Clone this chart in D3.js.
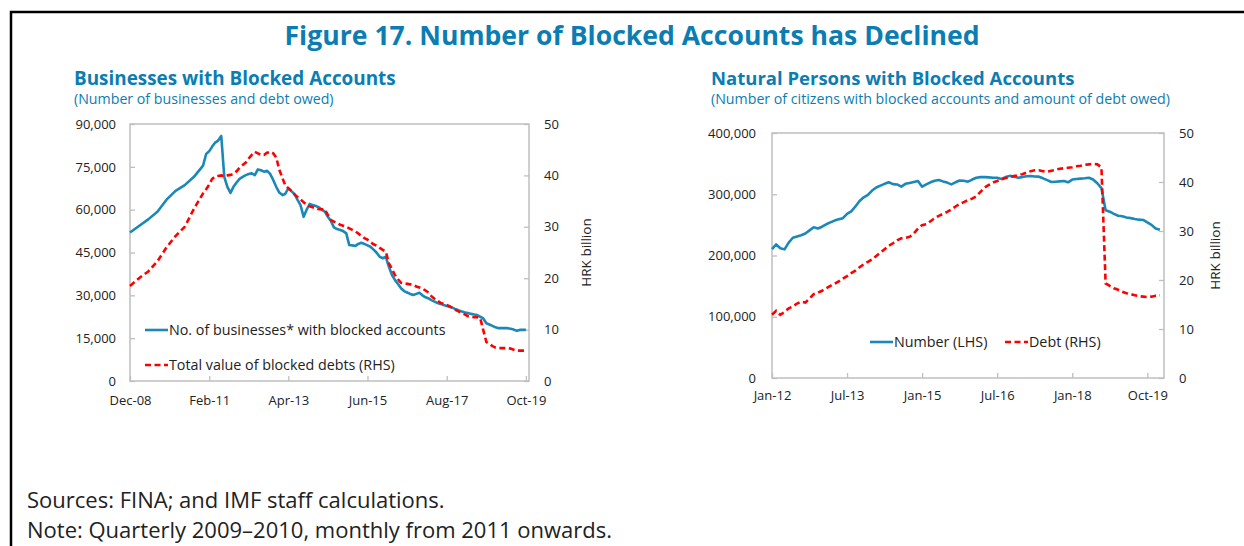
<!DOCTYPE html>
<html>
<head>
<meta charset="utf-8">
<script src="https://cdn.jsdelivr.net/npm/d3@7"></script>
<style>
  body { margin: 0; background: #fff; }
  text { font-family: "Open Sans", "Noto Sans", sans-serif; }
</style>
</head>
<body>
<script>
// ---- data ----
// left chart: quarterly Dec-08..Dec-10, monthly Jan-11..Oct-19
var bizCount = [52.0, 54.3, 56.6, 59.3, 63.5, 66.6, 68.6, 71.5, 75.4,
  79.5, 80.5, 82.0, 83.5, 84.2, 85.8, 71.5, 68.0, 65.9, 68.0, 69.5, 70.8,
  71.5, 72.1, 72.5, 72.7, 72.1, 74.1, 73.8, 73.3, 73.6, 72.5, 70.4, 68.0,
  66.0, 65.1, 65.5, 67.5, 66.5, 65.5, 63.5, 61.6, 57.5, 60.0, 62.0, 61.6,
  61.3, 60.8, 60.0, 59.3, 57.5, 56.0, 53.8, 53.2, 52.9, 52.5, 51.7, 47.6,
  47.5, 47.3, 48.0, 48.4, 48.0, 47.5, 47.0, 46.0, 44.9, 43.5, 43.0, 43.5,
  40.0, 37.1, 35.4, 34.0, 32.5, 31.5, 31.0, 30.5, 30.1, 30.5, 30.9, 30.0,
  29.3, 28.9, 28.3, 27.8, 27.3, 27.0, 26.6, 26.3, 26.0, 25.6, 25.1, 24.7,
  24.3, 24.0, 23.8, 23.5, 23.3, 23.1, 22.5, 21.9, 20.2, 19.8, 19.3, 18.8,
  18.5, 18.5, 18.5, 18.5, 18.3, 18.0, 17.6, 17.9, 17.9, 17.9];          // thousands
var bizDebt = [18.5, 20.0, 21.3, 23.3, 26.0, 28.2, 30.0, 33.5, 36.5,
  37.3, 38.2, 39.3, 39.8, 39.9, 40.0, 39.9, 40.0, 40.1, 40.3, 40.8, 41.5,
  42.0, 42.5, 43.3, 44.0, 44.6, 44.3, 44.0, 44.0, 44.4, 44.6, 44.3, 43.5,
  41.1, 39.5, 38.1, 37.5, 37.0, 36.3, 35.8, 35.3, 34.8, 34.3, 34.0, 33.8,
  33.6, 33.4, 33.4, 33.4, 32.3, 31.3, 31.0, 30.7, 30.4, 30.2, 30.0, 29.7,
  29.4, 29.1, 28.7, 28.2, 27.8, 27.5, 27.0, 26.6, 26.3, 25.9, 25.5, 25.2,
  22.9, 21.8, 20.6, 19.8, 19.1, 19.0, 18.9, 18.8, 18.7, 18.4, 18.2, 18.0,
  17.6, 17.2, 16.5, 16.0, 15.6, 15.2, 15.0, 14.8, 14.5, 14.2, 13.8, 13.5,
  13.2, 12.9, 12.6, 12.5, 12.4, 12.4, 12.3, 9.9, 7.6, 7.2, 6.8, 6.5,
  6.4, 6.4, 6.4, 6.4, 6.3, 6.1, 5.9, 5.9, 5.9, 5.9];                  // HRK billion
var leftTickLabels = ["Dec-08", "Feb-11", "Apr-13", "Jun-15", "Aug-17", "Oct-19"];

// right chart: monthly from Jan-12
var personCount = [210.6, 218, 212, 210, 221, 229, 231, 233, 236, 241, 246, 244,
  247, 251, 254, 257, 259, 261, 268, 272, 280, 289, 295, 299,
  306, 311, 314, 317, 319.5, 316.5, 316, 312.5, 317, 318.5, 320, 321.6,
  312.3, 316, 319.5, 322, 323.3, 321, 319, 316.2, 319.5, 322.5, 322, 320.5,
  324, 327, 328, 328, 327.5, 327, 327, 325, 328, 330, 329, 327,
  328, 329.5, 329.8, 329, 328.7, 326, 323, 320, 320.5, 321, 321.6, 319.5,
  324, 325, 325.5, 326, 327, 324, 318, 310, 274, 271.5, 268, 265,
  264, 262, 261, 259.5, 258.5, 258, 254, 250, 244, 242];               // thousands
var personDebt = [12.9, 13.7, 12.9, 13.5, 14.2, 14.6, 15.2, 15.6, 15.4, 16.2, 17.1, 17.4,
  17.8, 18.3, 18.8, 19.2, 19.7, 20.3, 20.8, 21.4, 21.9, 22.6, 23.2, 23.7,
  24.2, 24.9, 25.6, 26.3, 27.0, 27.5, 28.1, 28.5, 28.6, 28.8, 29.5, 30.5,
  31.2, 31.4, 32.0, 32.6, 33.1, 33.5, 33.9, 34.4, 35.0, 35.5, 35.9, 36.3,
  36.6, 37.1, 38.0, 38.9, 39.4, 39.9, 40.2, 40.5, 40.8, 41.0, 41.2, 41.4,
  41.6, 41.9, 42.2, 42.4, 42.4, 42.2, 42.1, 42.3, 42.5, 42.7, 42.8, 42.9,
  43.0, 43.2, 43.3, 43.5, 43.6, 43.7, 43.6, 43.0, 19.3, 18.8, 18.3, 18.0,
  17.6, 17.3, 17.1, 16.9, 16.7, 16.6, 16.5, 16.6, 16.8, 16.9];         // HRK billion
var rightTickLabels = ["Jan-12", "Jul-13", "Jan-15", "Jul-16", "Jan-18", "Oct-19"];
var rightTickIdx = [0, 18, 36, 54, 72, 90];

// ---- setup ----
var W = 1244, H = 546;
var teal = "#0b7db3", blue = "#1a88b9", red = "#ff0000", frame = "#bfbfbf", ink = "#222";

var svg = d3.select("body").append("svg")
    .attr("width", W)
    .attr("height", H);

// outer frame (top + left edge)
svg.append("path")
    .attr("d", "M11,546 V12 H1244")
    .attr("fill", "none")
    .attr("stroke", "#000")
    .attr("stroke-width", 2.5);

svg.append("text")
    .attr("x", 632).attr("y", 45)
    .attr("text-anchor", "middle")
    .attr("font-size", "26.6px").attr("font-weight", "bold")
    .attr("fill", teal)
    .text("Figure 17. Number of Blocked Accounts has Declined");

function heading(x, t, s, fs) {
    svg.append("text").attr("x", x).attr("y", 85)
        .attr("font-size", fs + "px").attr("font-weight", "bold").attr("fill", teal).text(t);
    svg.append("text").attr("x", x).attr("y", 104)
        .attr("font-size", "14.2px").attr("fill", teal).text(s);
}
heading(74, "Businesses with Blocked Accounts", "(Number of businesses and debt owed)", 18.9);
heading(711, "Natural Persons with Blocked Accounts", "(Number of citizens with blocked accounts and amount of debt owed)", 18.5);

svg.append("text").attr("x", 27).attr("y", 508)
    .attr("font-size", "22px").attr("fill", ink)
    .text("Sources: FINA; and IMF staff calculations.");
svg.append("text").attr("x", 27).attr("y", 538)
    .attr("font-size", "22px").attr("fill", ink)
    .text("Note: Quarterly 2009\u20132010, monthly from 2011 onwards.");

// styles shared by both panels
function styleAxis(g) {
    g.select(".domain").remove();
    g.selectAll("line").attr("stroke", frame).attr("stroke-width", 1.3);
    g.selectAll("text").attr("font-size", "13px").attr("fill", ink)
        .attr("font-family", "'Open Sans', sans-serif");
}

function panel(p) {
    var g = svg.append("g");
    // box
    g.append("rect")
        .attr("x", p.x0).attr("y", p.y0)
        .attr("width", p.x1 - p.x0).attr("height", p.y1 - p.y0)
        .attr("fill", "none").attr("stroke", frame).attr("stroke-width", 1.5);

    g.append("g").attr("transform", "translate(" + p.x0 + ",0)")
        .call(d3.axisLeft(p.yL).tickValues(p.lTicks).tickFormat(d3.format(",")).tickSize(-5).tickPadding(p.padL))
        .call(styleAxis);
    g.append("g").attr("transform", "translate(" + p.x1 + ",0)")
        .call(d3.axisRight(p.yR).tickValues([0, 10, 20, 30, 40, 50]).tickSize(-5).tickPadding(15))
        .call(styleAxis);
    g.append("g").attr("transform", "translate(0," + p.y1 + ")")
        .call(p.xAxis.tickSize(-5).tickPadding(p.padX))
        .call(styleAxis);

    g.append("text")
        .attr("transform", "translate(" + p.unitX + "," + ((p.y0 + p.y1) / 2) + ") rotate(-90)")
        .attr("text-anchor", "middle").attr("dy", "0.35em")
        .attr("font-size", "13.5px").attr("fill", ink)
        .text("HRK billion");

    g.append("path").datum(p.count)
        .attr("fill", "none").attr("stroke", blue).attr("stroke-width", 2.6)
        .attr("stroke-linejoin", "round")
        .attr("d", d3.line().x(function(d, i) { return p.xAt(i); }).y(function(d) { return p.yL(d * 1000); }));
    g.append("path").datum(p.debt)
        .attr("fill", "none").attr("stroke", red).attr("stroke-width", 2.6)
        .attr("stroke-dasharray", "6,3.5")
        .attr("d", d3.line().x(function(d, i) { return p.xAt(i); }).y(function(d) { return p.yR(d); }));

    p.legend.forEach(function(l) {
        g.append("line")
            .attr("x1", l.x).attr("x2", l.x + 23).attr("y1", l.y).attr("y2", l.y)
            .attr("stroke", l.c).attr("stroke-width", 2.6)
            .attr("stroke-dasharray", l.dash ? "6,3.5" : null);
        g.append("text").attr("x", l.x + 24).attr("y", l.y).attr("dy", "0.36em")
            .attr("font-size", "14.3px").attr("fill", ink).text(l.t);
    });
}

// ---- left panel ----
var leftDates = d3.timeMonth.range(new Date(2008, 11, 1), new Date(2011, 0, 1), 3)
    .concat(d3.timeMonth.range(new Date(2011, 0, 1), new Date(2019, 10, 1)));
var parseM = d3.timeParse("%b-%y");
var xLeft = d3.scaleTime()
    .domain([new Date(2008, 11, 1), new Date(2019, 10, 1)])
    .range([130, 529]);
panel({
    x0: 130, x1: 529, y0: 124, y1: 381,
    yL: d3.scaleLinear().domain([0, 90000]).range([381, 124]),
    yR: d3.scaleLinear().domain([0, 50]).range([381, 124]),
    lTicks: d3.range(0, 90001, 15000),
    padL: 14, padX: 15, unitX: 586,
    xAxis: d3.axisBottom(xLeft).tickValues(leftTickLabels.map(parseM)).tickFormat(d3.timeFormat("%b-%y")),
    xAt: function(i) { return xLeft(leftDates[i]); },
    count: bizCount, debt: bizDebt,
    legend: [
        { x: 145, y: 330, c: blue, t: "No. of businesses* with blocked accounts" },
        { x: 145, y: 365, c: red, dash: true, t: "Total value of blocked debts (RHS)" }
    ]
});

// ---- right panel ----
var xRight = d3.scaleLinear().domain([0, 94]).range([772, 1164]);
panel({
    x0: 772, x1: 1164, y0: 133, y1: 378,
    yL: d3.scaleLinear().domain([0, 400000]).range([378, 133]),
    yR: d3.scaleLinear().domain([0, 50]).range([378, 133]),
    lTicks: d3.range(0, 400001, 100000),
    padL: 16, padX: 13, unitX: 1215,
    xAxis: d3.axisBottom(xRight).tickValues(rightTickIdx).tickFormat(function(d, i) { return rightTickLabels[i]; }),
    xAt: function(i) { return xRight(i); },
    count: personCount, debt: personDebt,
    legend: [
        { x: 870, y: 342, c: blue, t: "Number (LHS)" },
        { x: 1005, y: 342, c: red, dash: true, t: "Debt (RHS)" }
    ]
});
</script>
</body>
</html>
